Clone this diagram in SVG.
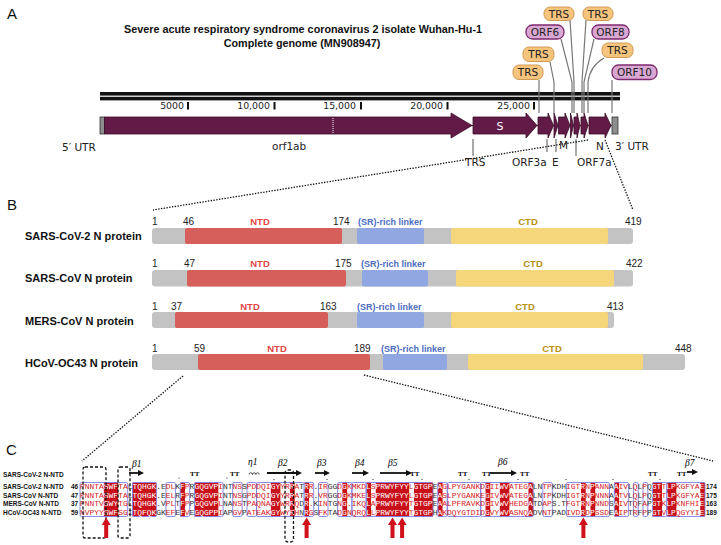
<svg xmlns="http://www.w3.org/2000/svg" width="721" height="545" viewBox="0 0 721 545">
<defs>
<style>
.pan{font-family:"Liberation Sans",Arial,sans-serif;font-size:15px;fill:#111}
.ttl{font-family:"Liberation Sans",Arial,sans-serif;font-size:10.8px;font-weight:bold;fill:#111;text-anchor:middle}
.gl{font-family:"DejaVu Sans",Verdana,sans-serif;font-size:10.5px;fill:#222}
.rn{font-family:"DejaVu Sans",Verdana,sans-serif;font-size:9.4px;fill:#222;text-anchor:end}
.bx{font-family:"DejaVu Sans",Verdana,sans-serif;font-size:10.5px;fill:#222;text-anchor:middle}
.trs{fill:#f6c47d;stroke:#cf9a56;stroke-width:1}
.orf{fill:#d8a8d2;stroke:#7d2a6e;stroke-width:1.3}
.gene{fill:#621a46;stroke:#3a0d28;stroke-width:0.8}
.utr{fill:#8e8e8e;stroke:#333;stroke-width:0.8}
.gline{fill:none;stroke:#777;stroke-width:1.2}
.dot{fill:none;stroke:#111;stroke-width:1.3;stroke-dasharray:1.4 1.4}
.pl{font-family:"Liberation Sans",Arial,sans-serif;font-size:11px;font-weight:bold;fill:#111}
.bn{font-family:"Liberation Sans",Arial,sans-serif;font-size:10px;fill:#222}
.dl{font-family:"Liberation Sans",Arial,sans-serif;font-size:9.5px;font-weight:bold;text-anchor:middle}
.lk{font-family:"Liberation Sans",Arial,sans-serif;font-size:9px;font-weight:bold;fill:#4b6cc1}
.gray{fill:#c3c3c3}
.ntd{fill:#d65f5c}
.lnk{fill:#90a7e2}
.ctd{fill:#f6d67a}
.cl{font-family:"Liberation Sans",Arial,sans-serif;font-size:6.5px;font-weight:bold;fill:#111}
.seq{font-family:"Liberation Mono","DejaVu Sans Mono",monospace;font-size:7.95px;fill:#d4191e}
.w{fill:#fff}
.k{fill:#333}
.id{fill:#c8101a}
.sim{fill:none;stroke:#7f7fe8;stroke-width:0.9}
.dash{fill:none;stroke:#111;stroke-width:1.3;stroke-dasharray:3 2}
.ss{font-family:"Liberation Serif","Times New Roman",serif;font-size:9.5px;font-style:italic;fill:#000}
.tt{font-family:"Liberation Serif","Times New Roman",serif;font-size:7px;font-weight:bold;fill:#000}
.arr{fill:#d0101a}
.strand{stroke:#111;stroke-width:1.8;marker-end:url(#ah)}
</style>
<marker id="ah" markerWidth="6" markerHeight="6" refX="4" refY="3" orient="auto" markerUnits="userSpaceOnUse">
<path d="M0,0 L6,3 L0,6 Z" fill="#111"/>
</marker>
</defs>
<rect width="721" height="545" fill="#fff"/>

<!-- Panel A -->
<text class="pan" x="7" y="19">A</text>
<text class="ttl" x="303" y="33">Severe acute respiratory syndrome coronavirus 2 isolate Wuhan-Hu-1</text>
<text class="ttl" x="302" y="47">Complete genome (MN908947)</text>

<g id="ruler">
<rect x="100" y="92" width="520" height="3.6" fill="#111"/>
<rect x="100" y="96.8" width="520" height="3.6" fill="#111"/>
<rect x="187" y="102" width="2" height="7.5" fill="#111"/>
<rect x="273.5" y="102" width="2" height="7.5" fill="#111"/>
<rect x="360" y="102" width="2" height="7.5" fill="#111"/>
<rect x="446.5" y="102" width="2" height="7.5" fill="#111"/>
<rect x="533" y="102" width="2" height="7.5" fill="#111"/>
<text class="rn" x="184" y="109">5000</text>
<text class="rn" x="270" y="109">10,000</text>
<text class="rn" x="356" y="109">15,000</text>
<text class="rn" x="443" y="109">20,000</text>
<text class="rn" x="530" y="109">25,000</text>
</g>

<g id="connectors">
<line x1="100" y1="125.5" x2="618" y2="125.5" stroke="#333" stroke-width="1"/>
<polyline class="gline" points="539,80 539,113"/>
<polyline class="gline" points="550,62 554,82 554,113"/>
<polyline class="gline" points="561,39 572,82 572,113"/>
<polyline class="gline" points="570,20 574,82 574,113"/>
<polyline class="gline" points="586,20 582,82 582,113"/>
<polyline class="gline" points="594,39 584,82 584,113"/>
<path class="gline" d="M604,58 Q590,66 588,82 V113"/>
<polyline class="gline" points="612,80 612,113"/>
<line x1="473" y1="139" x2="473" y2="156" stroke="#555" stroke-width="1"/>
<line x1="547" y1="139" x2="547" y2="152" stroke="#555" stroke-width="1"/>
<line x1="556" y1="139" x2="556" y2="152" stroke="#555" stroke-width="1"/>
<line x1="576" y1="139" x2="576" y2="156" stroke="#555" stroke-width="1"/>
<line class="dot" x1="588" y1="140" x2="153" y2="210"/>
<line class="dot" x1="605" y1="140" x2="633" y2="210"/>
<line class="dot" x1="183" y1="376" x2="82" y2="461"/>
<line class="dot" x1="364" y1="375" x2="713" y2="461"/>
</g>

<g id="genome">
<rect class="utr" x="100" y="117" width="4.5" height="17"/>
<path class="gene" d="M104.5,117 H451 V113 L472,125.5 L451,138 V134 H104.5 Z"/>
<line x1="333" y1="118" x2="333" y2="133" stroke="#fff" stroke-width="1" stroke-dasharray="1 1"/>
<path class="gene" d="M473,117 H526 V113 L537,125.5 L526,138 V134 H473 Z"/>
<text x="500" y="129.5" font-family="DejaVu Sans,sans-serif" font-size="11" fill="#fff" text-anchor="middle">S</text>
<path class="gene" d="M538,117 H548 V113 L553.5,125.5 L548,138 V134 H538 Z"/>
<path class="gene" d="M554,113 L558,125.5 L554,138 Z"/>
<path class="gene" d="M558.5,117 H565 V113 L570,125.5 L565,138 V134 H558.5 Z"/>
<path class="gene" d="M570.5,113 L573.5,125.5 L570.5,138 Z"/>
<path class="gene" d="M574,117 H577 V113 L580,125.5 L577,138 V134 H574 Z"/>
<path class="gene" d="M581,117 H584 V113 L588,125.5 L584,138 V134 H581 Z"/>
<path class="gene" d="M589,117 H605 V113 L611,125.5 L605,138 V134 H589 Z"/>
<rect class="utr" x="612" y="117" width="6" height="17"/>
<text class="gl" x="62" y="151">5′ UTR</text>
<text class="gl" x="272" y="150">orf1ab</text>
<text class="gl" x="615" y="150">3′ UTR</text>
<text class="gl" x="596" y="150">N</text>
<text class="gl" x="559" y="149">M</text>
<text class="gl" x="465" y="166">TRS</text>
<text class="gl" x="512" y="166">ORF3a</text>
<text class="gl" x="552" y="166">E</text>
<text class="gl" x="577" y="166">ORF7a</text>
</g>

<g id="trs1"><rect class="trs" x="544" y="7" width="30" height="13.5" rx="6"/><text class="bx" x="559" y="17.8">TRS</text></g>
<g id="trs2"><rect class="trs" x="583" y="7" width="30" height="13.5" rx="6"/><text class="bx" x="598" y="17.8">TRS</text></g>
<g id="orf6"><rect class="orf" x="526" y="25" width="38" height="14" rx="6.5"/><text class="bx" x="545" y="36">ORF6</text></g>
<g id="orf8"><rect class="orf" x="592" y="25" width="37" height="14" rx="6.5"/><text class="bx" x="610.5" y="36">ORF8</text></g>
<g id="trs3"><rect class="trs" x="523" y="47" width="31" height="14.5" rx="6"/><text class="bx" x="538.5" y="58.3">TRS</text></g>
<g id="trs4"><rect class="trs" x="602" y="43" width="31" height="14.5" rx="6"/><text class="bx" x="617.5" y="54.3">TRS</text></g>
<g id="trs5"><rect class="trs" x="513" y="65" width="30" height="14.5" rx="6"/><text class="bx" x="528" y="76.3">TRS</text></g>
<g id="orf10"><rect class="orf" x="612" y="65" width="45" height="14.5" rx="6.5"/><text class="bx" x="634.5" y="76.3">ORF10</text></g>

<!-- Panel B -->
<text class="pan" x="7" y="210">B</text>

<g id="sars2">
<text class="pl" x="25" y="240">SARS-CoV-2 N protein</text>
<rect class="gray" x="152" y="228" width="481" height="16" rx="3"/>
<rect class="ntd" x="185" y="228" width="157" height="16" rx="2"/>
<rect class="lnk" x="357" y="228" width="67" height="16" rx="2"/>
<rect class="ctd" x="451" y="228" width="157" height="16" rx="2"/>
<text class="bn" x="152" y="225">1</text>
<text class="bn" x="183" y="225">46</text>
<text class="dl" x="260" y="225" fill="#e4463f">NTD</text>
<text class="bn" x="333" y="225">174</text>
<text class="lk" x="358" y="225">(SR)-rich linker</text>
<text class="dl" x="528" y="225" fill="#b8900f">CTD</text>
<text class="bn" x="625" y="225">419</text>
</g>

<g id="sars1">
<text class="pl" x="25" y="282">SARS-CoV N protein</text>
<rect class="gray" x="152" y="270" width="481" height="16.5" rx="3"/>
<rect class="ntd" x="187" y="270" width="159" height="16.5" rx="2"/>
<rect class="lnk" x="362" y="270" width="66" height="16.5" rx="2"/>
<rect class="ctd" x="456" y="270" width="158" height="16.5" rx="2"/>
<text class="bn" x="152" y="267">1</text>
<text class="bn" x="184" y="267">47</text>
<text class="dl" x="260" y="267" fill="#e4463f">NTD</text>
<text class="bn" x="335" y="267">175</text>
<text class="lk" x="361" y="267">(SR)-rich linker</text>
<text class="dl" x="533" y="267" fill="#b8900f">CTD</text>
<text class="bn" x="626" y="267">422</text>
</g>

<g id="mers">
<text class="pl" x="25" y="325">MERS-CoV N protein</text>
<rect class="gray" x="152" y="312" width="462" height="16" rx="3"/>
<rect class="ntd" x="175" y="312" width="153" height="16" rx="2"/>
<rect class="lnk" x="357" y="312" width="67" height="16" rx="2"/>
<rect class="ctd" x="451" y="312" width="157" height="16" rx="2"/>
<text class="bn" x="152" y="310">1</text>
<text class="bn" x="171" y="310">37</text>
<text class="dl" x="250" y="310" fill="#e4463f">NTD</text>
<text class="bn" x="320" y="310">163</text>
<text class="lk" x="357" y="310">(SR)-rich linker</text>
<text class="dl" x="525" y="310" fill="#b8900f">CTD</text>
<text class="bn" x="607" y="310">413</text>
</g>

<g id="hcov">
<text class="pl" x="25" y="367">HCoV-OC43 N protein</text>
<rect class="gray" x="152" y="354" width="533" height="16" rx="3"/>
<rect class="ntd" x="198" y="354" width="172" height="16" rx="2"/>
<rect class="lnk" x="383" y="354" width="64" height="16" rx="2"/>
<rect class="ctd" x="468" y="354" width="175" height="16" rx="2"/>
<text class="bn" x="152" y="352">1</text>
<text class="bn" x="194" y="352">59</text>
<text class="dl" x="277" y="352" fill="#e4463f">NTD</text>
<text class="bn" x="354" y="352">189</text>
<text class="lk" x="381" y="352">(SR)-rich linker</text>
<text class="dl" x="552" y="352" fill="#b8900f">CTD</text>
<text class="bn" x="675" y="352">448</text>
</g>

<!-- Panel C -->
<text class="pan" x="6" y="455">C</text>

<g id="alignment">
<g id="identity">
<rect class="id" x="103.85" y="482.5" width="14.31" height="34"/>
<rect class="id" x="132.48" y="482.5" width="23.85" height="34"/>
<rect class="id" x="180.18" y="482.5" width="4.77" height="34"/>
<rect class="id" x="194.50" y="482.5" width="23.85" height="34"/>
<rect class="id" x="270.83" y="482.5" width="9.54" height="34"/>
<rect class="id" x="289.91" y="482.5" width="4.77" height="34"/>
<rect class="id" x="304.22" y="482.5" width="4.77" height="34"/>
<rect class="id" x="342.39" y="482.5" width="4.77" height="34"/>
<rect class="id" x="366.24" y="482.5" width="4.77" height="34"/>
<rect class="id" x="375.78" y="482.5" width="33.39" height="34"/>
<rect class="id" x="413.95" y="482.5" width="19.08" height="34"/>
<rect class="id" x="437.80" y="482.5" width="4.77" height="34"/>
<rect class="id" x="485.51" y="482.5" width="4.77" height="34"/>
<rect class="id" x="499.82" y="482.5" width="9.54" height="34"/>
<rect class="id" x="528.45" y="482.5" width="4.77" height="34"/>
<rect class="id" x="580.92" y="482.5" width="4.77" height="34"/>
<rect class="id" x="590.46" y="482.5" width="4.77" height="34"/>
<rect class="id" x="614.32" y="482.5" width="4.77" height="34"/>
<rect class="id" x="652.48" y="482.5" width="9.54" height="34"/>
<rect class="id" x="666.80" y="482.5" width="9.54" height="34"/>
<rect class="id" x="700.19" y="482.5" width="4.77" height="34"/>
</g>
<g id="similarity">
<rect class="sim" x="80" y="482.5" width="47.7" height="34" rx="1.5"/>
<rect class="sim" x="132.5" y="482.5" width="23.9" height="34" rx="1.5"/>
<rect class="sim" x="165.9" y="482.5" width="9.5" height="34" rx="1.5"/>
<rect class="sim" x="180.2" y="482.5" width="9.5" height="34" rx="1.5"/>
<rect class="sim" x="194.5" y="482.5" width="28.6" height="34" rx="1.5"/>
<rect class="sim" x="232.7" y="482.5" width="9.5" height="34" rx="1.5"/>
<rect class="sim" x="247.0" y="482.5" width="9.5" height="34" rx="1.5"/>
<rect class="sim" x="256.5" y="482.5" width="47.7" height="34" rx="1.5"/>
<rect class="sim" x="304.2" y="482.5" width="9.5" height="34" rx="1.5"/>
<rect class="sim" x="318.5" y="482.5" width="9.5" height="34" rx="1.5"/>
<rect class="sim" x="337.6" y="482.5" width="14.3" height="34" rx="1.5"/>
<rect class="sim" x="351.9" y="482.5" width="14.3" height="34" rx="1.5"/>
<rect class="sim" x="366.2" y="482.5" width="66.8" height="34" rx="1.5"/>
<rect class="sim" x="437.8" y="482.5" width="9.5" height="34" rx="1.5"/>
<rect class="sim" x="447.3" y="482.5" width="33.4" height="34" rx="1.5"/>
<rect class="sim" x="480.7" y="482.5" width="52.5" height="34" rx="1.5"/>
<rect class="sim" x="542.8" y="482.5" width="9.5" height="34" rx="1.5"/>
<rect class="sim" x="566.6" y="482.5" width="42.9" height="34" rx="1.5"/>
<rect class="sim" x="614.3" y="482.5" width="14.3" height="34" rx="1.5"/>
<rect class="sim" x="633.4" y="482.5" width="4.8" height="34" rx="1.5"/>
<rect class="sim" x="643.0" y="482.5" width="4.8" height="34" rx="1.5"/>
<rect class="sim" x="652.5" y="482.5" width="14.3" height="34" rx="1.5"/>
<rect class="sim" x="666.8" y="482.5" width="38.2" height="34" rx="1.5"/>
</g>

<text class="cl" x="3" y="477">SARS-CoV-2 N-NTD</text>
<text class="cl" x="3" y="489">SARS-CoV-2 N-NTD</text>
<text class="cl" x="3" y="497.5">SARS-CoV N-NTD</text>
<text class="cl" x="3" y="506">MERS-CoV N-NTD</text>
<text class="cl" x="3" y="514.5">HCoV-OC43 N-NTD</text>
<text class="cl" x="71" y="489">46</text>
<text class="cl" x="71" y="497.5">47</text>
<text class="cl" x="71" y="506">37</text>
<text class="cl" x="71" y="514.5">59</text>
<text class="cl" x="706" y="489">174</text>
<text class="cl" x="706" y="497.5">175</text>
<text class="cl" x="706" y="506">163</text>
<text class="cl" x="706" y="514.5">189</text>

<text class="seq" x="80" y="489">PNNTA<tspan class="w">SWF</tspan>TA<tspan class="k">L</tspan><tspan class="w">TQHGK</tspan><tspan class="k">.E</tspan>DL<tspan class="k">K</tspan><tspan class="w">F</tspan>P<tspan class="k">R</tspan><tspan class="w">GQGVP</tspan>I<tspan class="k">NT</tspan>NS<tspan class="k">S</tspan>PDDQI<tspan class="w">GY</tspan>YR<tspan class="w">R</tspan>A<tspan class="k">T</tspan><tspan class="w">R</tspan>R<tspan class="k">.</tspan>IR<tspan class="k">GG</tspan>D<tspan class="w">G</tspan>KMKD<tspan class="w">L</tspan>S<tspan class="w">PRWYFYY</tspan>L<tspan class="w">GTGP</tspan><tspan class="k">E</tspan><tspan class="w">A</tspan>GLPYGANKD<tspan class="w">G</tspan>II<tspan class="w">WV</tspan>ATEG<tspan class="w">A</tspan><tspan class="k">LN</tspan>TP<tspan class="k">KDH</tspan>IGT<tspan class="w">R</tspan>N<tspan class="w">P</tspan>ANN<tspan class="k">A</tspan><tspan class="w">A</tspan>IV<tspan class="k">L</tspan>Q<tspan class="k">L</tspan>P<tspan class="k">Q</tspan><tspan class="w">GT</tspan>T<tspan class="w">LP</tspan>KGFYA<tspan class="w">E</tspan></text>
<text class="seq" x="80" y="497.5">PNNTA<tspan class="w">SWF</tspan>TA<tspan class="k">L</tspan><tspan class="w">TQHGK</tspan><tspan class="k">.E</tspan>EL<tspan class="k">R</tspan><tspan class="w">F</tspan>P<tspan class="k">R</tspan><tspan class="w">GQGVP</tspan>I<tspan class="k">NT</tspan>NS<tspan class="k">G</tspan>PDDQI<tspan class="w">GY</tspan>YR<tspan class="w">R</tspan>A<tspan class="k">T</tspan><tspan class="w">R</tspan>R<tspan class="k">.</tspan>VR<tspan class="k">GG</tspan>D<tspan class="w">G</tspan>KMKE<tspan class="w">L</tspan>S<tspan class="w">PRWYFYY</tspan>L<tspan class="w">GTGP</tspan><tspan class="k">E</tspan><tspan class="w">A</tspan>SLPYGANKE<tspan class="w">G</tspan>IV<tspan class="w">WV</tspan>ATEG<tspan class="w">A</tspan><tspan class="k">LN</tspan>TP<tspan class="k">KDH</tspan>IGT<tspan class="w">R</tspan>N<tspan class="w">P</tspan>NNN<tspan class="k">A</tspan><tspan class="w">A</tspan>TV<tspan class="k">L</tspan>Q<tspan class="k">L</tspan>P<tspan class="k">Q</tspan><tspan class="w">GT</tspan>T<tspan class="w">LP</tspan>KGFYA<tspan class="w">E</tspan></text>
<text class="seq" x="80" y="506">PNNTV<tspan class="w">SWY</tspan>TG<tspan class="k">L</tspan><tspan class="w">TQHGK</tspan><tspan class="k">.V</tspan>PL<tspan class="k">T</tspan><tspan class="w">F</tspan>P<tspan class="k">P</tspan><tspan class="w">GQGVP</tspan>L<tspan class="k">NA</tspan>NS<tspan class="k">T</tspan>PAQNA<tspan class="w">GY</tspan>WR<tspan class="w">R</tspan>Q<tspan class="k">D</tspan><tspan class="w">R</tspan>.<tspan class="k">K</tspan>IN<tspan class="k">TG</tspan>N<tspan class="w">G</tspan>.IKQ<tspan class="w">L</tspan>A<tspan class="w">PRWYFYY</tspan>T<tspan class="w">GTGP</tspan><tspan class="k">E</tspan><tspan class="w">A</tspan>ALPFRAVKD<tspan class="w">G</tspan>IV<tspan class="w">WV</tspan>HEDG<tspan class="w">A</tspan><tspan class="k">TD</tspan>AP<tspan class="k">S.T</tspan>FGT<tspan class="w">R</tspan>N<tspan class="w">P</tspan>NND<tspan class="k">S</tspan><tspan class="w">A</tspan>IV<tspan class="k">T</tspan>Q<tspan class="k">F</tspan>A<tspan class="k">P</tspan><tspan class="w">GT</tspan>K<tspan class="w">LP</tspan>KNFHI<tspan class="w">E</tspan></text>
<text class="seq" x="80" y="514.5">NVPYY<tspan class="w">SWF</tspan>SG<tspan class="k">I</tspan><tspan class="w">TQFQK</tspan><tspan class="k">GK</tspan>EF<tspan class="k">E</tspan><tspan class="w">F</tspan>V<tspan class="k">E</tspan><tspan class="w">GQGPP</tspan>I<tspan class="k">AP</tspan>GV<tspan class="k">P</tspan>ATEAK<tspan class="w">GY</tspan>WY<tspan class="w">R</tspan>H<tspan class="k">N</tspan><tspan class="w">R</tspan>G<tspan class="k">S</tspan>FK<tspan class="k">TA</tspan>D<tspan class="w">G</tspan>NQRQ<tspan class="w">L</tspan>L<tspan class="w">PRWYFYY</tspan>T<tspan class="w">GTGP</tspan><tspan class="k">H</tspan><tspan class="w">A</tspan>KDQYGTDID<tspan class="w">G</tspan>VY<tspan class="w">WV</tspan>ASNQ<tspan class="w">A</tspan><tspan class="k">DV</tspan>NT<tspan class="k">PAD</tspan>IVD<tspan class="w">R</tspan>D<tspan class="w">P</tspan>SSD<tspan class="k">E</tspan><tspan class="w">A</tspan>IP<tspan class="k">T</tspan>R<tspan class="k">F</tspan>P<tspan class="k">P</tspan><tspan class="w">GT</tspan>V<tspan class="w">LP</tspan>QGYYI<tspan class="w">E</tspan></text>
</g>

<g id="structure">
<line class="strand" x1="129" y1="473" x2="142" y2="473"/>
<text class="ss" x="132" y="467">β1</text>
<text class="ss" x="248" y="465">η1</text>
<path d="M249,474.5 a1.7,1.7 0 1 1 3.4,0 a1.7,1.7 0 1 1 3.4,0 a1.7,1.7 0 1 1 3.4,0" fill="none" stroke="#111" stroke-width="0.7"/>
<line class="strand" x1="267" y1="473" x2="300" y2="473"/>
<text class="ss" x="278" y="466">β2</text>
<line class="strand" x1="315" y1="473" x2="328" y2="473"/>
<text class="ss" x="317" y="466">β3</text>
<line class="strand" x1="352" y1="473" x2="367" y2="473"/>
<text class="ss" x="355" y="466">β4</text>
<line class="strand" x1="380" y1="473" x2="410" y2="473"/>
<text class="ss" x="388" y="466">β5</text>
<line class="strand" x1="490" y1="473" x2="515" y2="473"/>
<text class="ss" x="498" y="465">β6</text>
<line class="strand" x1="687" y1="472" x2="696" y2="472"/>
<text class="ss" x="685" y="466">β7</text>
<text class="tt" x="190" y="475.5">TT</text>
<text class="tt" x="230" y="475.5">TT</text>
<text class="tt" x="410" y="475.5">TT</text>
<text class="tt" x="458" y="475.5">TT</text>
<text class="tt" x="482" y="475.5">TT</text>
<text class="tt" x="520" y="475.5">TT</text>
<text class="tt" x="648" y="475.5">TT</text>
<text class="tt" x="677" y="475.5">TT</text>
<g fill="#111">
<circle cx="179" cy="478" r="0.6"/>
<circle cx="227" cy="478" r="0.6"/>
<circle cx="274" cy="479.5" r="0.6"/>
<circle cx="327" cy="479.5" r="0.6"/>
<circle cx="373" cy="479.5" r="0.6"/>
<circle cx="422" cy="479.5" r="0.6"/>
<circle cx="469" cy="479.5" r="0.6"/>
<circle cx="518" cy="479.5" r="0.6"/>
<circle cx="566" cy="479.5" r="0.6"/>
<circle cx="613" cy="479.5" r="0.6"/>
<circle cx="660" cy="479.5" r="0.6"/>
</g>
<rect class="dash" x="83" y="467" width="23" height="71" rx="2"/>
<rect class="dash" x="118" y="467" width="12" height="71" rx="2"/>
<rect class="dash" x="285" y="470" width="8.5" height="72" rx="3"/>
</g>

<g id="sites">
<path class="arr" d="M106.2,517.5 L110.7,525 L108.2,525 L108.2,538 L104.2,538 L104.2,525 L101.7,525 Z"/>
<path class="arr" d="M306.6,517.5 L311.1,525 L308.6,525 L308.6,538 L304.6,538 L304.6,525 L302.1,525 Z"/>
<path class="arr" d="M392.5,517.5 L397,525 L394.5,525 L394.5,538 L390.5,538 L390.5,525 L388,525 Z"/>
<path class="arr" d="M402.1,517.5 L406.6,525 L404.1,525 L404.1,538 L400.1,538 L400.1,525 L397.6,525 Z"/>
<path class="arr" d="M583.4,517.5 L587.9,525 L585.4,525 L585.4,538 L581.4,538 L581.4,525 L578.9,525 Z"/>
</g>
</svg>
